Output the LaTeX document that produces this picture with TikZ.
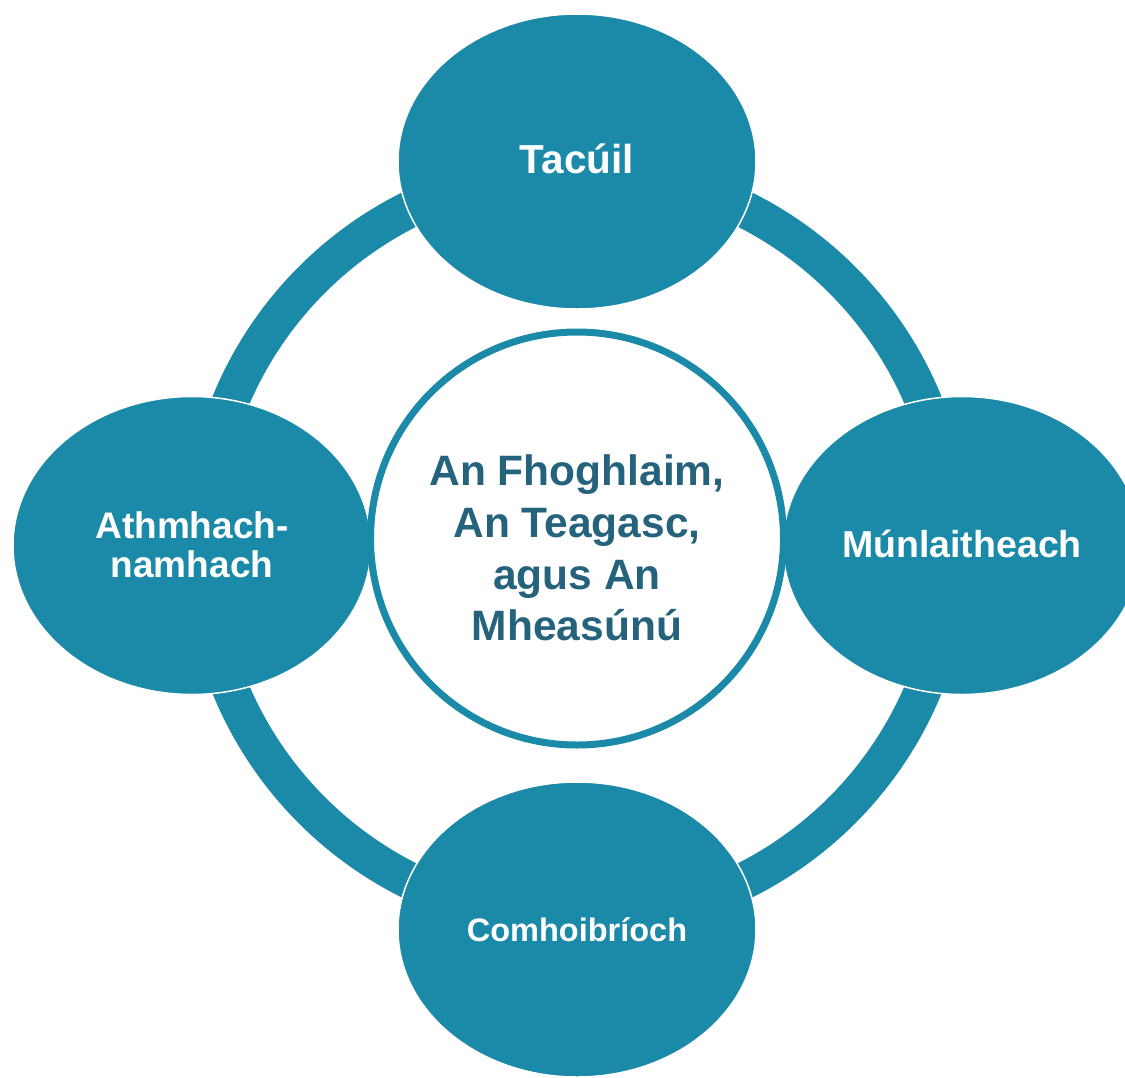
\documentclass[tikz,border=0pt]{standalone}
\usepackage{fontspec}
\setmainfont{Liberation Sans}
\usetikzlibrary{shapes.geometric}
\definecolor{teal1}{RGB}{27,137,168}
\definecolor{darkteal}{RGB}{37,99,125}
\begin{document}
\begin{tikzpicture}[x=1pt,y=-1pt,
  petal/.style={ellipse, fill=teal1, draw=white, line width=1.5pt,
    minimum width=358pt, minimum height=295pt, inner sep=0pt},
  lbl/.style={text=white, font=\bfseries, align=center, anchor=base, inner sep=0pt},
  ringline/.style={draw=teal1, line width=37pt}]
\useasboundingbox (0,0) rectangle (1125,1077);
\fill[white] (0,0) rectangle (1125,1077);
\coordinate (c) at (577,545);
\draw[ringline] (c) circle[radius=375pt];
\node[petal] (top) at (577,161.5) {};
\node[petal, minimum height=298pt] (left) at (192,545.5) {};
\node[petal, minimum height=298pt] (right) at (962,545.5) {};
\node[petal] (bottom) at (577,929.5) {};
\node[circle, draw=teal1, fill=white, line width=7pt, minimum size=413pt, inner sep=0pt] (hub) at (577,538.5) {};
\node[lbl, font=\fontsize{40.5}{48}\selectfont\bfseries] (t1) at (577,173.3) {Tacúil};
\node[lbl, font=\fontsize{37.5}{45}\selectfont\bfseries] (t2) at (962,557.7) {Múnlaitheach};
\node[lbl, font=\fontsize{32.5}{39}\selectfont\bfseries] (t3) at (577,941) {Comhoibríoch};
\node[lbl, font=\fontsize{37}{39.3}\selectfont\bfseries] (t4) at (192,577.3) {Athmhach-\\namhach};
\node[lbl, text=darkteal, font=\fontsize{42.5}{51.7}\selectfont\bfseries] (t5) at (577,640.7) {An Fhoghlaim,\\An Teagasc,\\agus An\\Mheasúnú};
\end{tikzpicture}
\end{document}
